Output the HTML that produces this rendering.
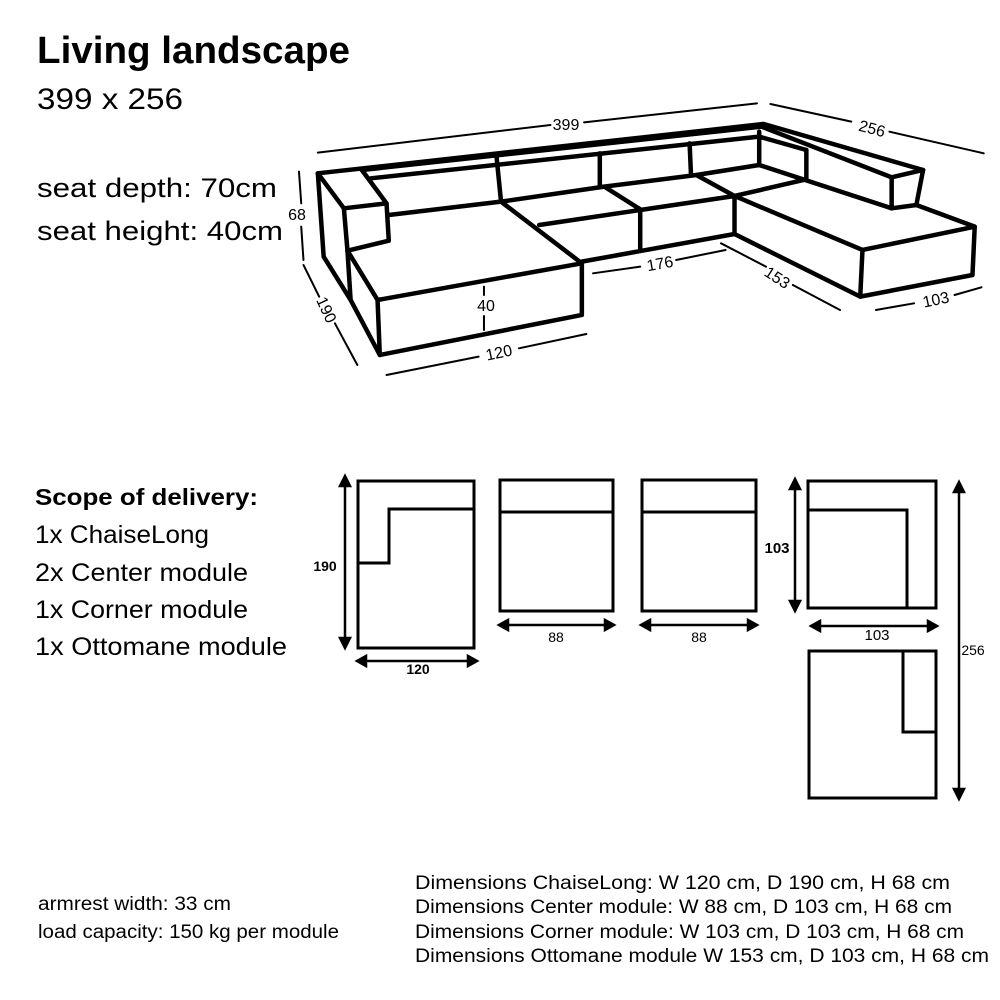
<!DOCTYPE html>
<html><head><meta charset="utf-8"><style>
html,body{margin:0;padding:0;background:#fff;}
svg{display:block;}
text{font-family:"Liberation Sans",sans-serif;fill:#000;}
</style></head><body>
<svg width="1000" height="1000" viewBox="0 0 1000 1000" xmlns="http://www.w3.org/2000/svg">
<!-- Header texts -->
<text x="37" y="63" font-size="38" font-weight="bold" textLength="313" lengthAdjust="spacingAndGlyphs">Living landscape</text>
<text x="37" y="109" font-size="30" textLength="146" lengthAdjust="spacingAndGlyphs">399 x 256</text>
<text x="37" y="197" font-size="27" textLength="240" lengthAdjust="spacingAndGlyphs">seat depth: 70cm</text>
<text x="37" y="240" font-size="27" textLength="246" lengthAdjust="spacingAndGlyphs">seat height: 40cm</text>

<!-- Sofa drawing -->
<g transform="matrix(0.449,0,0,0.3333,290,90)" fill="none" stroke="#000">
 <g stroke-width="4.5" vector-effect="non-scaling-stroke" stroke-linejoin="round" stroke-linecap="round">
  <path vector-effect="non-scaling-stroke" d="M62,250 L1055,102"/>
  <path vector-effect="non-scaling-stroke" d="M160,240 L1050,110"/>
  <path vector-effect="non-scaling-stroke" d="M180,265 L1045,140"/>
  <path vector-effect="non-scaling-stroke" d="M62,250 L120,355 L215,340 L160,240"/>
  <path vector-effect="non-scaling-stroke" d="M120,355 L128,482 L220,452 L215,340"/>
  <path vector-effect="non-scaling-stroke" d="M62,250 L75,500 L135,630 L200,795"/>
  <path vector-effect="non-scaling-stroke" d="M128,482 L135,630"/>
  <path vector-effect="non-scaling-stroke" d="M128,482 L195,630 L650,520 L650,675 L200,795 L195,630"/>
  <path vector-effect="non-scaling-stroke" d="M220,375 L470,335 L650,520"/>
  <path vector-effect="non-scaling-stroke" d="M460,200 L470,335"/>
  <path vector-effect="non-scaling-stroke" d="M690,190 L690,290"/>
  <path vector-effect="non-scaling-stroke" d="M890,160 L893,252"/>
  <path vector-effect="non-scaling-stroke" d="M1045,125 L1045,225"/>
  <path vector-effect="non-scaling-stroke" d="M470,335 L700,290 L905,255 L1045,225"/>
  <path vector-effect="non-scaling-stroke" d="M555,405 L780,360 L990,318"/>
  <path vector-effect="non-scaling-stroke" d="M700,290 L780,358 L780,475"/>
  <path vector-effect="non-scaling-stroke" d="M905,255 L990,318 L990,432"/>
  <path vector-effect="non-scaling-stroke" d="M650,515 L990,432"/>
  <path vector-effect="non-scaling-stroke" d="M1055,102 L1410,240 L1395,345"/>
  <path vector-effect="non-scaling-stroke" d="M1050,110 L1340,262 L1410,240"/>
  <path vector-effect="non-scaling-stroke" d="M1045,140 L1150,180"/>
  <path vector-effect="non-scaling-stroke" d="M1340,262 L1340,355 L1395,345"/>
  <path vector-effect="non-scaling-stroke" d="M1150,180 L1150,268"/>
  <path vector-effect="non-scaling-stroke" d="M1045,225 L1340,355"/>
  <path vector-effect="non-scaling-stroke" d="M990,318 L1150,268"/>
  <path vector-effect="non-scaling-stroke" d="M990,318 L1275,480 L1525,410 L1395,345"/>
  <path vector-effect="non-scaling-stroke" d="M990,432 L1270,620 L1520,555 L1525,410"/>
  <path vector-effect="non-scaling-stroke" d="M1275,480 L1270,620"/>
 </g>
 <g stroke-width="2" stroke-linecap="round">
  <path vector-effect="non-scaling-stroke" d="M62,188 L580,105 M655,97 L1040,40"/>
  <path vector-effect="non-scaling-stroke" d="M1070,42 L1250,95 M1335,125 L1545,190"/>
  <path vector-effect="non-scaling-stroke" d="M675,550 L780,530 M860,510 L970,480"/>
  <path vector-effect="non-scaling-stroke" d="M960,460 L1060,530 M1120,585 L1225,660"/>
  <path vector-effect="non-scaling-stroke" d="M1305,660 L1390,640 M1480,615 L1540,592"/>
  <path vector-effect="non-scaling-stroke" d="M215,855 L420,800 M510,775 L660,732"/>
  <path vector-effect="non-scaling-stroke" d="M30,525 L65,620 M100,700 L150,825"/>
  <path vector-effect="non-scaling-stroke" d="M20,245 L25,340 M25,410 L30,510"/>
  <path vector-effect="non-scaling-stroke" d="M432,590 L432,615 M432,678 L432,720"/>
 </g>
</g>
<g font-size="16">
 <text x="566" y="130" text-anchor="middle">399</text>
 <text x="872" y="134" text-anchor="middle" transform="rotate(15 872 129)">256</text>
 <text x="660" y="269" text-anchor="middle" transform="rotate(-10 660 264)">176</text>
 <text x="777" y="283" text-anchor="middle" transform="rotate(33 777 278)">153</text>
 <text x="936" y="305" text-anchor="middle" transform="rotate(-12 936 300)">103</text>
 <text x="499" y="358" text-anchor="middle" transform="rotate(-12 499 353)">120</text>
 <text x="326" y="315" text-anchor="middle" transform="rotate(65 326 310)">190</text>
 <text x="297" y="220" text-anchor="middle">68</text>
 <text x="486" y="311" text-anchor="middle">40</text>
</g>

<!-- Scope of delivery -->
<text x="35" y="505" font-size="23" font-weight="bold" textLength="223" lengthAdjust="spacingAndGlyphs">Scope of delivery:</text>
<text x="35" y="543" font-size="25" textLength="174" lengthAdjust="spacingAndGlyphs">1x ChaiseLong</text>
<text x="35" y="581" font-size="25" textLength="213" lengthAdjust="spacingAndGlyphs">2x Center module</text>
<text x="35" y="618" font-size="25" textLength="213" lengthAdjust="spacingAndGlyphs">1x Corner module</text>
<text x="35" y="655" font-size="25" textLength="252" lengthAdjust="spacingAndGlyphs">1x Ottomane module</text>

<!-- Module plans -->
<g fill="none" stroke="#000" stroke-width="3">
 <rect x="358" y="481" width="116" height="167"/>
 <path d="M358,563 L389,563 L389,509 L474,509"/>
 <rect x="500" y="480" width="113" height="131"/>
 <path d="M500,512 L613,512"/>
 <rect x="642" y="480" width="114" height="131"/>
 <path d="M642,512 L756,512"/>
 <rect x="808" y="481" width="128" height="127"/>
 <path d="M808,510 L907,510 L907,608"/>
 <rect x="809" y="651" width="127" height="147"/>
 <path d="M903,651 L903,732 L936,732"/>
</g>
<g stroke="#000" stroke-width="2.5" fill="#000">
 <line x1="345" y1="482" x2="345" y2="644"/>
 <path d="M345,476 L340,486 L350,486Z M345,648 L340,638 L350,638Z"/>
 <line x1="362" y1="661" x2="472" y2="661"/>
 <path d="M357,661 L366,656 L366,666Z M477,661 L468,656 L468,666Z"/>
 <line x1="504" y1="625" x2="610" y2="625"/>
 <path d="M499,625 L508,620 L508,630Z M614,625 L605,620 L605,630Z"/>
 <line x1="646" y1="625" x2="752" y2="625"/>
 <path d="M641,625 L650,620 L650,630Z M757,625 L748,620 L748,630Z"/>
 <line x1="795" y1="486" x2="795" y2="604"/>
 <path d="M795,479 L790,489 L800,489Z M795,611 L790,601 L800,601Z"/>
 <line x1="816" y1="626" x2="932" y2="626"/>
 <path d="M811,626 L820,621 L820,631Z M937,626 L928,621 L928,631Z"/>
 <line x1="959" y1="489" x2="959" y2="793"/>
 <path d="M959,482 L954,492 L964,492Z M959,799 L954,789 L964,789Z"/>
</g>
<text x="325" y="571" font-size="14" font-weight="bold" text-anchor="middle">190</text>
<text x="418" y="674" font-size="14" font-weight="bold" text-anchor="middle">120</text>
<text x="556" y="642" font-size="14" text-anchor="middle">88</text>
<text x="699" y="642" font-size="14" text-anchor="middle">88</text>
<text x="777" y="553" font-size="15" font-weight="bold" text-anchor="middle">103</text>
<text x="877" y="640" font-size="15" text-anchor="middle">103</text>
<text x="973" y="655" font-size="14" text-anchor="middle">256</text>

<!-- Bottom text -->
<text x="38" y="910" font-size="19" textLength="193" lengthAdjust="spacingAndGlyphs">armrest width: 33 cm</text>
<text x="38" y="938" font-size="19" textLength="301" lengthAdjust="spacingAndGlyphs">load capacity: 150 kg per module</text>
<text x="415" y="889" font-size="19" textLength="535" lengthAdjust="spacingAndGlyphs">Dimensions ChaiseLong: W 120 cm, D 190 cm, H 68 cm</text>
<text x="415" y="913" font-size="19" textLength="537" lengthAdjust="spacingAndGlyphs">Dimensions Center module: W 88 cm, D 103 cm, H 68 cm</text>
<text x="415" y="938" font-size="19" textLength="549" lengthAdjust="spacingAndGlyphs">Dimensions Corner module: W 103 cm, D 103 cm, H 68 cm</text>
<text x="415" y="962" font-size="19" textLength="574" lengthAdjust="spacingAndGlyphs">Dimensions Ottomane module W 153 cm, D 103 cm, H 68 cm</text>
</svg>
</body></html>
